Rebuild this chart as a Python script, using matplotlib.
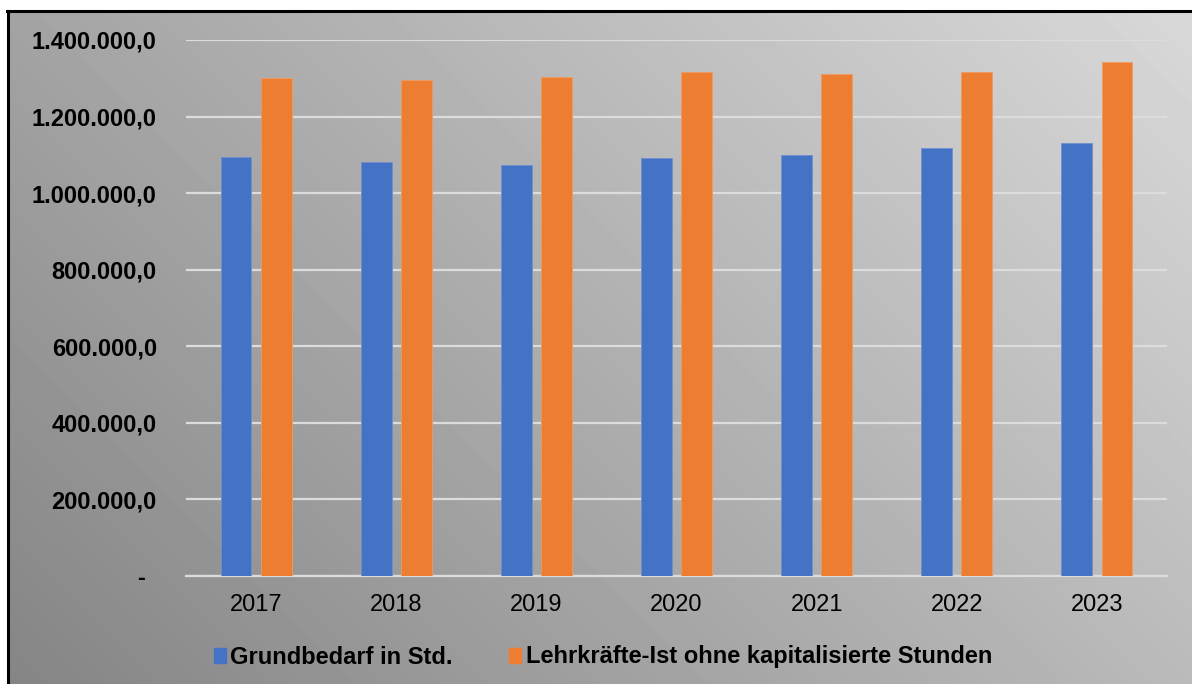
import numpy as np
import matplotlib.pyplot as plt
from matplotlib.patches import Patch
from matplotlib.ticker import FuncFormatter

plt.rcParams['font.family'] = ['Liberation Sans', 'DejaVu Sans']

years = ['2017', '2018', '2019', '2020', '2021', '2022', '2023']
grundbedarf = [1094000, 1081000, 1073000, 1092000, 1100000, 1118000, 1131000]
lehrkraefte_ist = [1300000, 1296000, 1303000, 1316000, 1311000, 1316000, 1342000]

blue = '#4472c4'
orange = '#ed7d31'

W, H = 1192, 684
fig = plt.figure(figsize=(W / 100, H / 100), dpi=100)
fig.patch.set_facecolor('white')

# diagonal grey gradient behind everything (dark bottom-left, light top-right)
bg = fig.add_axes([0, 0, 1, 1], zorder=-10)
xx, yy = np.meshgrid(np.linspace(0, 1, 300), np.linspace(1, 0, 200))
t = (xx * W + yy * H) / (W + H)
shade = 0.52 + 0.33 * t
bg.imshow(shade, cmap='gray', vmin=0, vmax=1, extent=[0, W, 0, H],
          aspect='auto', interpolation='bilinear')
# white margin on top/left and black frame line
bg.fill_between([0, W], H - 10, H, color='white', zorder=2)
bg.fill_between([0, 7], 0, H, color='white', zorder=2)
bg.plot([7, W], [H - 10.5, H - 10.5], color='black', lw=2.2, zorder=3)
bg.plot([7.5, 7.5], [0, H - 10.5], color='black', lw=2.2, zorder=3)
bg.set_xlim(0, W)
bg.set_ylim(0, H)
bg.axis('off')

ax = fig.add_axes([186 / W, 1 - 576 / H, (1167 - 186) / W, (576 - 40) / H])
ax.patch.set_alpha(0)

x = np.arange(len(years))
bw = 0.22
off = 0.143
ax.bar(x - off, grundbedarf, bw, color=blue, zorder=3,
       edgecolor='#6f8fd0', linewidth=0.6)
ax.bar(x + off, lehrkraefte_ist, bw, color=orange, zorder=3,
       edgecolor='#f09a60', linewidth=0.6)

ax.set_xlim(-0.5, len(years) - 0.5)
ax.set_ylim(0, 1400000)
ax.set_yticks(np.arange(0, 1400001, 200000))


def de_fmt(v, pos):
    # accounting style: zero shown as a dash
    if v == 0:
        return '-'
    return f'{v:,.1f}'.replace(',', 'X').replace('.', ',').replace('X', '.')


ax.yaxis.set_major_formatter(FuncFormatter(de_fmt))
ax.set_xticks(x)
ax.set_xticklabels(years)
ax.tick_params(axis='y', length=0, pad=21, labelsize=17)
ax.tick_params(axis='x', length=0, pad=13, labelsize=17)
for lbl in ax.get_yticklabels():
    lbl.set_fontweight('bold')
fig.canvas.draw()
# the dash sits a bit left of the number column
ax.get_yticklabels()[0].set_x(-0.012)

ax.grid(axis='y', color='#dcdcdc', lw=1.6, zorder=1)
for s in ['top', 'right', 'left']:
    ax.spines[s].set_visible(False)
ax.spines['bottom'].set_color('#dcdcdc')
ax.spines['bottom'].set_linewidth(1.6)

handles = [Patch(color=blue), Patch(color=orange)]
fig.legend(handles, ['Grundbedarf in Std.',
                     'Lehrkräfte-Ist ohne kapitalisierte Stunden'],
           loc='center', bbox_to_anchor=(603 / W, 1 - 657 / H), ncol=2,
           frameon=False, handlelength=0.5, handleheight=0.6,
           handletextpad=0.2, columnspacing=2.4,
           prop={'weight': 'bold', 'size': 17})

fig.savefig('out.png', dpi=100)
